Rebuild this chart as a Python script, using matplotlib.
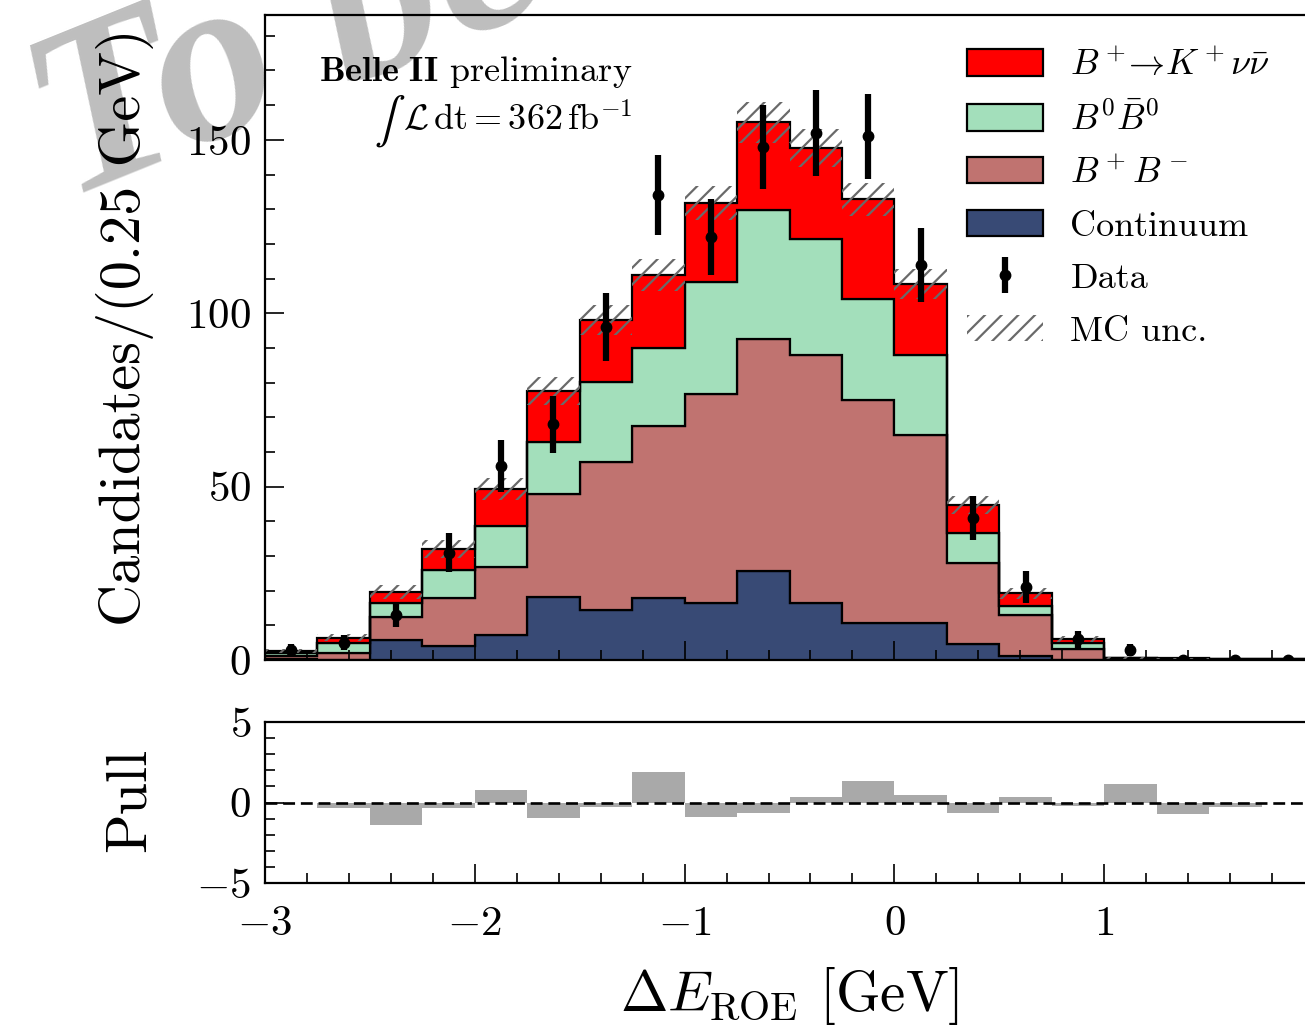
import numpy as np
import matplotlib
matplotlib.use("Agg")
import matplotlib.pyplot as plt
from matplotlib.patches import Patch
from matplotlib.ticker import MultipleLocator

# Binning of Delta E_ROE [GeV]
bin_edges = np.arange(-3.0, 2.0001, 0.25)

# Stacked MC components per bin (candidates / 0.25 GeV)
continuum = [0.4, 0.0, 5.8, 4.0, 7.2, 18.3, 14.4, 17.8, 16.5, 25.7,
             16.5, 10.6, 10.6, 4.6, 1.1, 0.0, 0.0, 0.0, 0.0, 0.0]
charged_bb = [0.8, 2.1, 6.5, 13.8, 19.6, 29.7, 42.7, 49.6, 60.2, 67.0,
              71.4, 64.4, 54.2, 23.4, 11.9, 3.1, 0.3, 0.2, 0.1, 0.1]
neutral_bb = [0.7, 2.9, 4.0, 8.2, 11.8, 14.8, 23.0, 22.6, 32.3, 37.2,
              33.4, 29.2, 23.1, 8.6, 2.6, 1.7, 0.15, 0.15, 0.1, 0.05]
signal = [0.6, 1.4, 3.2, 6.0, 10.7, 14.7, 18.0, 21.0, 22.8, 25.1,
          26.3, 28.6, 20.5, 8.1, 3.7, 1.2, 0.15, 0.15, 0.1, 0.05]
mc_unc = [0.6, 1.0, 2.0, 2.6, 3.2, 4.0, 4.3, 4.6, 5.0, 5.8,
          5.5, 4.8, 4.3, 2.6, 1.6, 0.8, 0.2, 0.2, 0.1, 0.1]

# Observed candidates per bin
data = [3, 5, 13, 31, 56, 68, 96, 134, 122, 148,
        152, 151, 114, 41, 21, 6, 3, 0, 0, 0]

# Pull per bin
pull = [0.0, -0.36, -1.4, -0.36, 0.8, -0.95, -0.25, 1.9, -0.92, -0.63,
        0.32, 1.32, 0.46, -0.63, 0.32, -0.2, 1.18, -0.74, -0.3, 0.0]

labels = [r"$B^+\!\!\rightarrow\! K^+\nu\bar{\nu}$", r"$B^0\bar{B}^0$",
          r"$B^+B^-$", "Continuum", "Data", "MC unc."]
colors = {"continuum": "#384a75", "charged": "#c07370",
          "neutral": "#a3dfbb", "signal": "#ff0000"}
hatch_color = "#6a6a6a"

plt.rcParams["font.family"] = "serif"
plt.rcParams["font.serif"] = ["cmr10"]
plt.rcParams["mathtext.fontset"] = "cm"
plt.rcParams["axes.formatter.use_mathtext"] = True
plt.rcParams["hatch.linewidth"] = 1.6
plt.rcParams["hatch.color"] = hatch_color

W, H = 1305, 1027
fig = plt.figure(figsize=(W / 100, H / 100), dpi=100)


def px_axes(left, top, right, bottom):
    return fig.add_axes([left / W, 1 - bottom / H, (right - left) / W, (bottom - top) / H])


ax = px_axes(265, 15, 1314, 660)
axp = px_axes(265, 722, 1314, 883)
for a in (ax, axp):
    a.set_facecolor("none")

# Watermark behind the axes
fig.text(66 / W, 1 - 200 / H, "To be", fontsize=172, family="Liberation Serif",
         fontweight="bold", style="italic", color="#bebebe", rotation=22,
         rotation_mode="anchor", ha="left", va="baseline", zorder=-10)

c = np.asarray(continuum)
b1 = c + np.asarray(charged_bb)
b2 = b1 + np.asarray(neutral_bb)
b3 = b2 + np.asarray(signal)
unc = np.asarray(mc_unc)
centers = 0.5 * (bin_edges[1:] + bin_edges[:-1])

kw = dict(fill=True, edgecolor="black", linewidth=1.6)
ax.stairs(c, bin_edges, baseline=0, facecolor=colors["continuum"], **kw)
ax.stairs(b1, bin_edges, baseline=c, facecolor=colors["charged"], **kw)
ax.stairs(b2, bin_edges, baseline=b1, facecolor=colors["neutral"], **kw)
ax.stairs(b3, bin_edges, baseline=b2, facecolor=colors["signal"], **kw)
ax.stairs(b3 + unc, bin_edges, baseline=b3 - unc, fill=True, facecolor="none",
          edgecolor=hatch_color, hatch="//", linewidth=0)

d = np.asarray(data, dtype=float)
eb = ax.errorbar(centers, d, yerr=np.sqrt(d), fmt="o", color="black", ms=7.5,
                 elinewidth=4.5, capsize=0, zorder=5)

ax.set_xlim(-3, 2)
ax.set_ylim(0, 186)
axp.set_xlim(-3, 2)
axp.set_ylim(-5, 5)

axp.bar(bin_edges[:-1], pull, width=0.25, align="edge", color="#a9a9a9", linewidth=0)
axp.axhline(0, color="black", ls=(0, (4.5, 2.2)), lw=1.9)

for a in (ax, axp):
    a.xaxis.set_major_locator(MultipleLocator(1))
    a.xaxis.set_minor_locator(MultipleLocator(0.2))
    a.tick_params(which="both", direction="in", top=False, right=False,
                  labelsize=31, width=1.2, pad=10)
    a.tick_params(which="major", length=14)
    a.tick_params(which="minor", length=7)
    for s in a.spines.values():
        s.set_linewidth(1.6)
axp.tick_params(axis="x", pad=16)
ax.yaxis.set_major_locator(MultipleLocator(50))
ax.yaxis.set_minor_locator(MultipleLocator(10))
axp.yaxis.set_major_locator(MultipleLocator(5))
axp.yaxis.set_minor_locator(MultipleLocator(1))
ax.tick_params(labelbottom=False)

ax.set_ylabel("Candidates/(0.25 GeV)", fontsize=42)
ax.yaxis.set_label_coords(-0.133, 0.516)
ax.yaxis.label.set_va("center")
axp.set_ylabel("Pull", fontsize=42)
axp.yaxis.set_label_coords(-0.129, 0.515)
axp.yaxis.label.set_va("center")
axp.set_xlabel(r"$\Delta E_{\mathrm{ROE}}$ [GeV]", fontsize=41)
axp.xaxis.set_label_coords(0.5, -0.70)
axp.xaxis.label.set_va("center")

fig.text(632 / W, 1 - 72 / H, r"$\mathbf{Belle\ II}$ preliminary", fontsize=26,
         ha="right", va="center")
fig.text(632 / W, 1 - 120 / H, r"$\mathcal{L}\,\mathrm{dt}=362\,\mathrm{fb}^{-1}$",
         fontsize=26, ha="right", va="center")
fig.text(374 / W, 1 - 121 / H, r"$\int$", fontsize=33, ha="left", va="center",
         math_fontfamily="stix")

handles = [Patch(facecolor=colors["signal"], edgecolor="black", linewidth=1.6),
           Patch(facecolor=colors["neutral"], edgecolor="black", linewidth=1.6),
           Patch(facecolor=colors["charged"], edgecolor="black", linewidth=1.6),
           Patch(facecolor=colors["continuum"], edgecolor="black", linewidth=1.6),
           eb,
           Patch(facecolor="none", edgecolor=hatch_color, hatch="//", linewidth=0)]
fig.legend(handles, labels, loc="upper left", bbox_to_anchor=(953 / W, 1 - 34 / H),
           frameon=False, fontsize=26, handlelength=2.1, handleheight=0.75,
           handletextpad=0.75, labelspacing=0.55, borderaxespad=0)

fig.savefig("out.png", dpi=100)
